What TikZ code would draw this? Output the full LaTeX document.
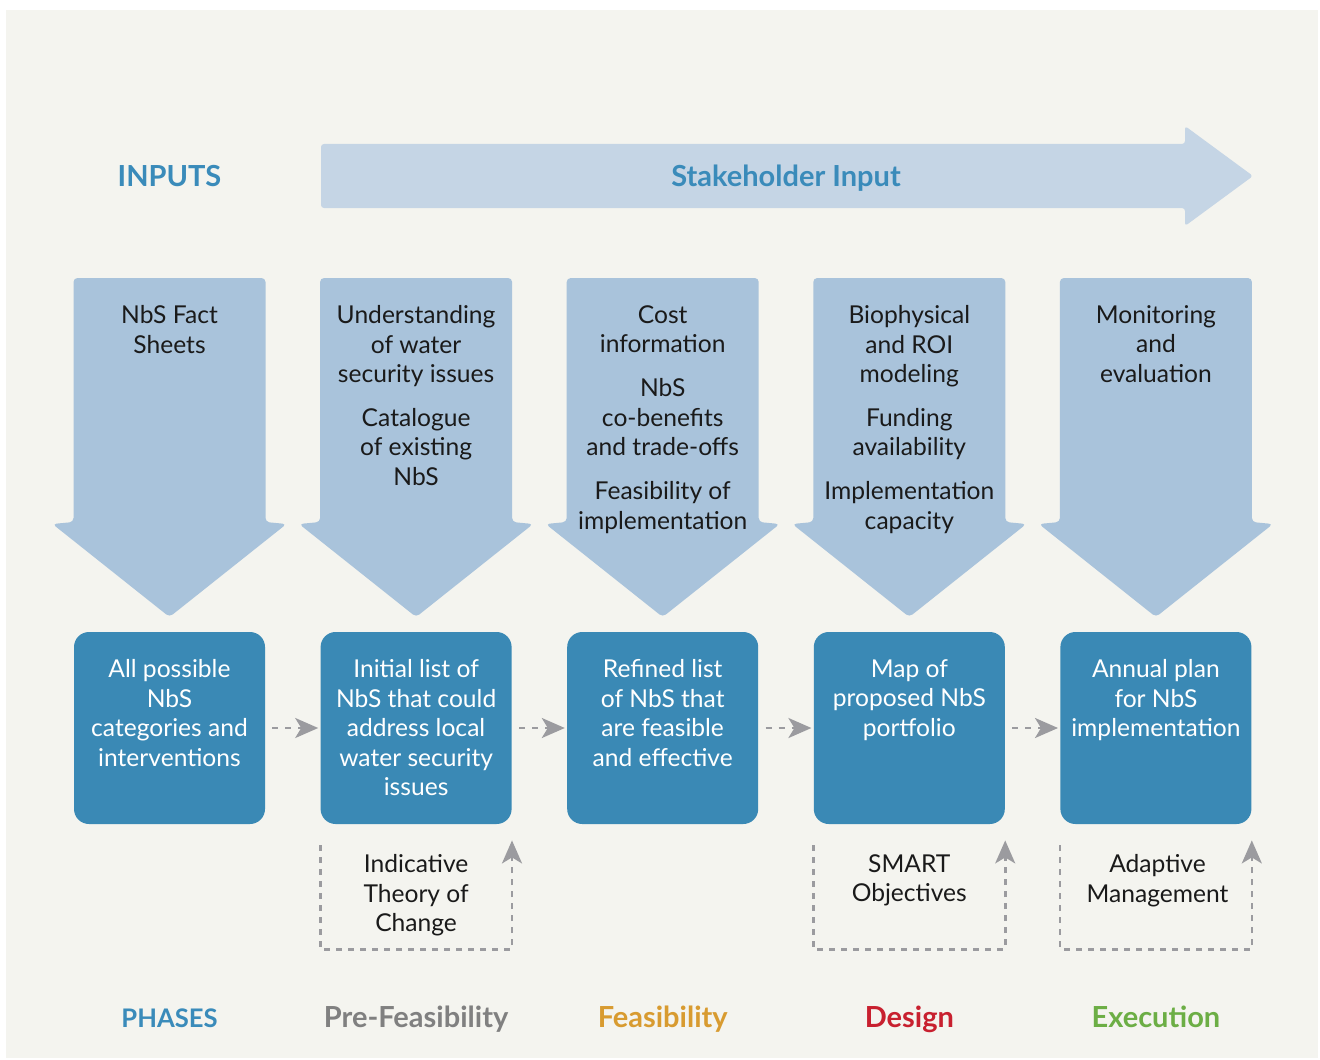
\documentclass[tikz,border=0pt]{standalone}
\usepackage{fontspec}
\setmainfont{Lato}
\usetikzlibrary{arrows.meta}
\definecolor{bg}{HTML}{F4F4EF}
\definecolor{toparrow}{HTML}{C5D5E5}
\definecolor{downarrow}{HTML}{A9C3DB}
\definecolor{boxblue}{HTML}{3A89B5}
\definecolor{headblue}{HTML}{3A8BBA}
\definecolor{dashgray}{HTML}{9B9B9F}
\definecolor{pregray}{HTML}{808080}
\definecolor{feasorange}{HTML}{D89B30}
\definecolor{designred}{HTML}{C8202F}
\definecolor{execgreen}{HTML}{6CAE45}
\definecolor{ink}{HTML}{1A1A1A}
\tikzset{
  head/.style={font=\fontsize{14.5pt}{17pt}\selectfont\bfseries, inner sep=0pt, anchor=base},
  intext/.style={font=\fontsize{12.3pt}{14.75pt}\selectfont, text=ink, align=center, inner sep=0pt, anchor=north},
  bbox/.style={fill=boxblue, rounded corners=7.5pt, minimum width=95.5pt, minimum height=96pt, inner sep=0pt},
  btext/.style={font=\fontsize{12.3pt}{14.75pt}\selectfont, text=white, align=center, inner sep=0pt, anchor=north},
  flow/.style={draw=dashgray, line width=1.3pt, dash pattern=on 3pt off 3.5pt, -{Stealth[length=11.5pt,width=10pt,inset=3pt]}, shorten <=3.5pt, shorten >=1pt},
  loopline/.style={draw=dashgray, line width=1.3pt, dash pattern=on 3pt off 3pt, -{Stealth[length=11.5pt,width=10pt,inset=3pt]}},
}
\begin{document}
\begin{tikzpicture}[x=0.5pt,y=-0.5pt]
\useasboundingbox (0,0) rectangle (1320,1059);
\fill[white] (0,0) rectangle (1320,1059);
\fill[bg] (6,10) rectangle (1318,1058);
% top arrow
\fill[toparrow, rounded corners=1.5pt] (321,144) -- (1185,144) -- (1185,126) -- (1253,176) -- (1185,226) -- (1185,208) -- (321,208) -- cycle;
\node[head, text=headblue] (inputs) at (169.5,186) {INPUTS};
\node[head, text=headblue] (stake) at (786,186) {Stakeholder Input};
% down arrows
\foreach \c in {169.5,416.1,662.7,909.3,1155.9}{
  \fill[downarrow, rounded corners=2pt] ({\c-96},278) -- ({\c+96},278) -- ({\c+96},522) -- ({\c+117},524) -- (\c,617) -- ({\c-117},524) -- ({\c-96},522) -- cycle;
}
\node[intext] (in1) at (169.5,305) {NbS Fact\\Sheets};
\node[intext] (in2) at (416.1,305) {Understanding\\of water\\security issues\\[7.2pt]Catalogue\\of existing\\NbS};
\node[intext] (in3) at (662.7,305) {Cost\\information\\[7.2pt]NbS\\co-benefits\\and trade-offs\\[7.2pt]Feasibility of\\implementation};
\node[intext] (in4) at (909.3,305) {Biophysical\\and ROI\\modeling\\[7.2pt]Funding\\availability\\[7.2pt]Implementation\\capacity};
\node[intext] (in5) at (1155.9,305) {Monitoring\\and\\evaluation};
% phase boxes
\node[bbox] (b1) at (169.5,728) {};
\node[bbox] (b2) at (416.1,728) {};
\node[bbox] (b3) at (662.7,728) {};
\node[bbox] (b4) at (909.3,728) {};
\node[bbox] (b5) at (1155.9,728) {};
\node[btext] (bt1) at (169.5,659) {All possible\\NbS\\categories and\\interventions};
\node[btext] (bt2) at (416.1,659) {Initial list of\\NbS that could\\address local\\water security\\issues};
\node[btext] (bt3) at (662.7,659) {Refined list\\of NbS that\\are feasible\\and effective};
\node[btext] (bt4) at (909.3,659) {Map of\\proposed NbS\\portfolio};
\node[btext] (bt5) at (1155.9,659) {Annual plan\\for NbS\\implementation};
% flow arrows
\draw[flow] (b1.east) -- (b2.west);
\draw[flow] (b2.east) -- (b3.west);
\draw[flow] (b3.east) -- (b4.west);
\draw[flow] (b4.east) -- (b5.west);
% feedback loops
\draw[loopline] ([yshift=-10.5pt]b2.south west) -- ++(0,104) -| ([yshift=-8pt]b2.south east);
\draw[loopline] ([yshift=-10.5pt]b4.south west) -- ++(0,104) -| ([yshift=-8pt]b4.south east);
\draw[loopline] ([yshift=-10.5pt]b5.south west) -- ++(0,104) -| ([yshift=-8pt]b5.south east);
\node[intext] (l2) at (416.1,854) {Indicative\\Theory of\\Change};
\node[intext] (l4) at (909.3,854) {SMART\\Objectives};
\node[intext] (l5) at (1157.5,854) {Adaptive\\Management};
% phases
\node[head, text=headblue, font=\fontsize{12.8pt}{15pt}\selectfont\bfseries] (phases) at (169.5,1027) {PHASES};
\node[head, text=pregray] (p2) at (416.1,1027) {Pre-Feasibility};
\node[head, text=feasorange] (p3) at (662.7,1027) {Feasibility};
\node[head, text=designred] (p4) at (909.3,1027) {Design};
\node[head, text=execgreen] (p5) at (1155.9,1027) {Execution};
\end{tikzpicture}
\end{document}
